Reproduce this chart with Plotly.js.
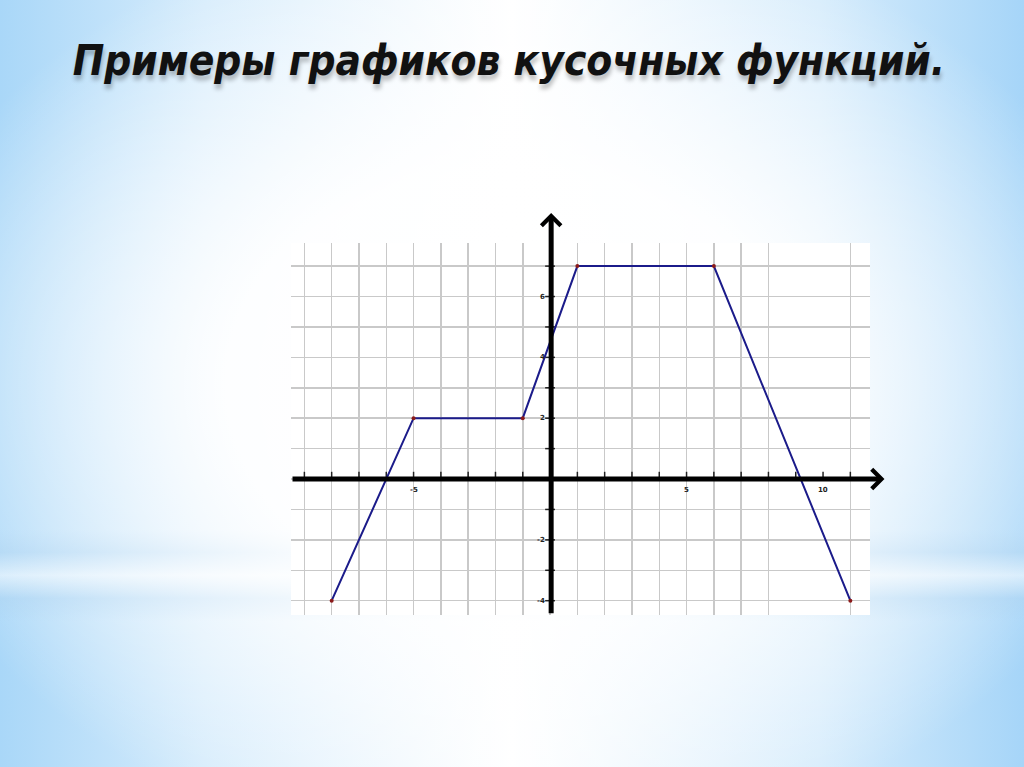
<!DOCTYPE html>
<html>
<head>
<meta charset="utf-8">
<script src="https://cdn.plot.ly/plotly-3.0.1.min.js"></script>
<style>
  html, body { margin: 0; padding: 0; width: 1024px; height: 767px; overflow: hidden; }
  body {
    background:
      radial-gradient(ellipse 62% 62% at 50% 50%, rgba(255,255,255,1) 0%, rgba(255,255,255,0.95) 45%, rgba(255,255,255,0) 100%),
      linear-gradient(to bottom, rgba(255,255,255,0) 0%, rgba(255,255,255,0) 69%, rgba(160,205,240,0.55) 72%, rgba(255,255,255,0.5) 75%, rgba(160,205,240,0.5) 78%, rgba(255,255,255,0) 81%, rgba(255,255,255,0) 100%),
      linear-gradient(to right, #a9d7f8 0%, #d6ecfc 20%, #ffffff 50%, #d6ecfc 80%, #a6d5f8 100%);
  }
  #chart { width: 1024px; height: 767px; }
</style>
</head>
<body>
<div id="chart"></div>
<script>
// Piecewise function vertices
const fx = [-8, -5, -1, 1, 6, 11];
const fy = [-4, 2, 2, 7, 7, -4];
// extra marked point on the x axis
const px = [1];
const py = [0];
// grid lines (x = 9 and x = 10 are missing in the original)
const gridX = [-9, -8, -7, -6, -5, -4, -3, -2, -1, 0, 1, 2, 3, 4, 5, 6, 7, 8, 11];
const gridY = [-4, -3, -2, -1, 0, 1, 2, 3, 4, 5, 6, 7];
// tick marks along the axes
const tickX = [-9, -8, -7, -6, -5, -4, -3, -2, -1, 1, 2, 3, 4, 5, 6, 7, 8, 9, 10, 11];
const tickY = [-4, -3, -2, -1, 1, 2, 3, 4, 5, 6, 7];
// tick labels
const xLabelVals = [-5, 5, 10];
const xLabelText = ['-5', '5', '10'];
const yLabelVals = [6, 4, 2, -2, -4];
const yLabelText = ['6', '4', '2', '-2', '-4'];

const xRange = [-9.49, 11.72];
const yRange = [-4.47, 7.76];

const traces = [
  {
    x: tickX, y: tickX.map(() => 0.1), type: 'scatter', mode: 'markers',
    marker: { symbol: 'line-ns', size: 6, line: { width: 1.5, color: '#222' } },
    hoverinfo: 'skip', showlegend: false, cliponaxis: false
  },
  {
    x: tickY.map(() => 0), y: tickY, type: 'scatter', mode: 'markers',
    marker: { symbol: 'line-ew', size: 7, line: { width: 1.5, color: '#222' } },
    hoverinfo: 'skip', showlegend: false, cliponaxis: false
  },
  {
    x: fx, y: fy, type: 'scatter', mode: 'lines+markers',
    line: { color: '#1b1b8a', width: 2 },
    marker: { color: '#8b1a1a', size: 4 },
    showlegend: false, cliponaxis: false
  },
  {
    x: px, y: py, type: 'scatter', mode: 'markers',
    marker: { color: '#8b1a1a', size: 4 },
    showlegend: false, cliponaxis: false
  }
];

const annotations = [];
// x axis with arrow
annotations.push({
  x: 12.25, y: 0, xref: 'x', yref: 'y', ax: -9.49, ay: 0, axref: 'x', ayref: 'y',
  text: '', showarrow: true, arrowhead: 4, arrowsize: 0.75, arrowwidth: 5, arrowcolor: '#000', standoff: 0
});
// y axis with arrow
annotations.push({
  x: 0.04, y: 8.75, xref: 'x', yref: 'y', ax: 0.04, ay: -4.46, axref: 'x', ayref: 'y',
  text: '', showarrow: true, arrowhead: 4, arrowsize: 0.75, arrowwidth: 5, arrowcolor: '#000', standoff: 0
});
xLabelVals.forEach((v, i) => annotations.push({
  x: v, y: -0.17, xref: 'x', yref: 'y', text: '<b>' + xLabelText[i] + '</b>', showarrow: false,
  yanchor: 'top', font: { family: 'DejaVu Sans', size: 7, color: '#222' }
}));
yLabelVals.forEach((v, i) => annotations.push({
  x: -0.12, y: v, xref: 'x', yref: 'y', text: '<b>' + yLabelText[i] + '</b>', showarrow: false,
  xanchor: 'right', font: { family: 'DejaVu Sans', size: 7, color: '#222' }
}));
annotations.push({
  x: 1.3, y: 8.5, xref: 'x', yref: 'y', text: 'y', showarrow: false,
  font: { family: 'Open Sans, Liberation Sans', size: 22, color: '#222' }
});
annotations.push({
  x: 12.55, y: -0.55, xref: 'x', yref: 'y', text: 'x', showarrow: false,
  font: { family: 'Open Sans, Liberation Sans', size: 22, color: '#222' }
});

const layout = {
  width: 1024, height: 767,
  paper_bgcolor: 'rgba(0,0,0,0)',
  plot_bgcolor: '#ffffff',
  margin: { l: 291, r: 154, t: 243, b: 152, pad: 0 },
  title: {
    text: 'Примеры графиков кусочных функций.',
    xref: 'container', yref: 'container', x: 0.497, y: 0.921, xanchor: 'center', yanchor: 'middle',
    font: { family: 'DejaVu Sans Condensed, DejaVu Sans', size: 42, color: '#111',
            weight: 'bold', style: 'italic',
            shadow: '1px 5px 4px rgba(0,0,0,0.25)' }
  },
  xaxis: {
    range: xRange, tickmode: 'array', tickvals: gridX, showticklabels: false, ticks: '',
    showgrid: true, gridcolor: '#c9c9c9', gridwidth: 1.5, zeroline: false, showline: false, fixedrange: true
  },
  yaxis: {
    range: yRange, tickmode: 'array', tickvals: gridY, showticklabels: false, ticks: '',
    showgrid: true, gridcolor: '#c9c9c9', gridwidth: 1.5, zeroline: false, showline: false, fixedrange: true
  },
  annotations: annotations,
  showlegend: false
};

Plotly.newPlot('chart', traces, layout, { displayModeBar: false, staticPlot: true });
</script>
</body>
</html>
